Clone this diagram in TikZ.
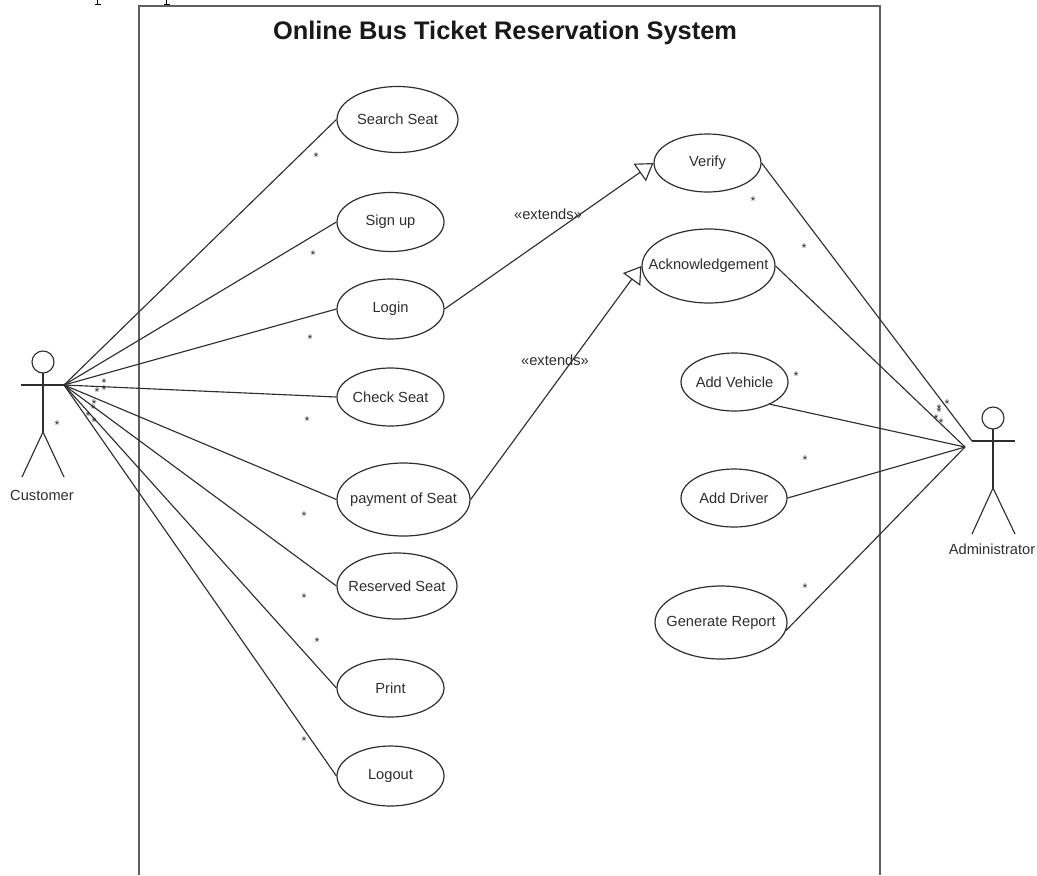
\documentclass[tikz,border=0pt]{standalone}
\usepackage{fontspec}
\setmainfont{Liberation Sans}
\usetikzlibrary{shapes.geometric,arrows.meta}
\definecolor{ink}{HTML}{2E2E2E}
\tikzset{
  x=0.75pt,y=-0.75pt,
  usecase/.style={draw=ink,line width=0.9pt,ellipse,inner sep=0pt,text=ink,font=\fontsize{11}{12}\selectfont,fill=white},
  assoc/.style={draw=ink,line width=0.85pt},
  ext/.style={assoc,-{Triangle[open,length=12.5pt,width=16pt,fill=white]}},
  star/.style={inner sep=0pt,font=\fontsize{9.5}{9.5}\selectfont,text=ink},
  lbl/.style={inner sep=0pt,font=\fontsize{11}{12}\selectfont,text=ink},
  actor/.style={draw=ink,line width=0.85pt},
}
\newcommand{\uc}[6]{\node[usecase,minimum width=#3*0.75pt,minimum height=#4*0.75pt] (#5) at (#1,#2) {\makebox[0pt][c]{#6}};}
\begin{document}
\begin{tikzpicture}
\useasboundingbox (0,0) rectangle (1037,875);
\draw[gray!75!black,line width=1.1pt] (139,875) -- (139,6) -- (880,6) -- (880,875);
\draw[black,line width=0.7pt] (97,0) -- (97,4.6) (95,4.6) -- (100.5,4.6);
\draw[black,line width=0.7pt] (166,0) -- (166,4.6) (164,4.6) -- (169.5,4.6);
\node[inner sep=0pt,font=\fontsize{19.05}{22}\selectfont\bfseries,text=black!90] (title) at (505,33) {Online Bus Ticket Reservation System};
% actors
\coordinate (chub) at (64,385);
\draw[actor] (43,362) circle (11);
\draw[actor] (21,385) -- (chub);
\draw[actor] (43,373) -- (43,432) coordinate (chip);
\draw[actor] (22,477) -- (chip) -- (64,477);
\node[lbl] (customer) at (42,495) {Customer};
\coordinate (aarm) at (972,441);
\coordinate (ahub) at (965,447);
\draw[actor] (993,418) circle (11);
\draw[actor] (aarm) -- (1015,441);
\draw[actor] (993,429) -- (993,488) coordinate (ahip);
\draw[actor] (972,534) -- (ahip) -- (1015,534);
\node[lbl] (admin) at (992,549) {Administrator};
% use cases
\uc{397.5}{119.5}{121}{66}{search}{Search Seat}
\uc{390.5}{222}{107}{59}{signup}{Sign up}
\uc{390.5}{309}{107}{60}{login}{Login}
\uc{390.5}{397}{107}{58}{check}{Check Seat}
\uc{403.5}{499.5}{133}{73}{payment}{payment of Seat}
\uc{397}{586}{120}{66}{reserved}{Reserved Seat}
\uc{390.5}{688}{107}{58}{print}{Print}
\uc{390.5}{776}{107}{60}{logout}{Logout}
\uc{707.5}{163}{107}{58}{verify}{Verify}
\uc{708.5}{266}{133}{74}{ack}{Acknowledgement}
\uc{734.5}{382}{107}{58}{vehicle}{Add Vehicle}
\uc{734}{498}{106}{58}{driver}{Add Driver}
\uc{721}{622.5}{132}{73}{report}{Generate Report}
% associations
\draw[assoc] (chub) -- (search.west);
\draw[assoc] (chub) -- (signup.west);
\draw[assoc] (chub) -- (login.west);
\draw[assoc] (chub) -- (check.west);
\draw[assoc] (chub) -- (payment.west);
\draw[assoc] (chub) -- (reserved.west);
\draw[assoc] (chub) -- (print.west);
\draw[assoc] (chub) -- (logout.west);
\draw[assoc] (verify.east) -- (aarm);
\draw[assoc] (ack.east) -- (ahub);
\draw[assoc] (vehicle.-32) -- (ahub);
\draw[assoc] (driver.east) -- (ahub);
\draw[assoc] (report.-7) -- (ahub);
\draw[ext] (login.east) -- (verify.west);
\draw[ext] (payment.east) -- (ack.west);
\node[lbl] (ext1) at (548,214) {«extends»};
\node[lbl] (ext2) at (555,360) {«extends»};
% multiplicity stars
\foreach \i/\x/\y in {1/316/157,2/313/255,3/310/339,4/307/421,5/304/516,6/304/598,7/317/642,8/304/741,9/753/201,10/804/248,11/796/376,12/805/460,13/805/588,14/57/425,15/104/383,16/104/390,17/97/392,18/94/404,19/93/409,20/88/416,21/94/422,22/947/404,23/939/409,24/939/412,25/936/419,26/941/423}
  \node[star] (s\i) at (\x,\y) {*};
\end{tikzpicture}
\end{document}
